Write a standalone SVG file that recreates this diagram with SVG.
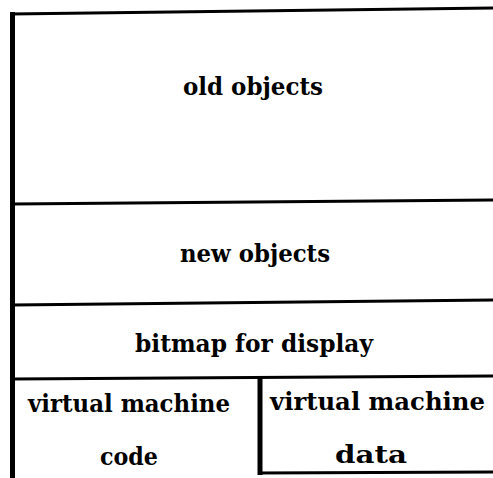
<svg xmlns="http://www.w3.org/2000/svg" width="493" height="478" viewBox="0 0 493 478">
  <style>
    .rule { stroke: #000; stroke-width: 3; fill: none; stroke-linecap: butt; }
    .post { stroke: #000; stroke-width: 5; fill: none; }
    .lbl { font-family: "DejaVu Serif", "Liberation Serif", serif; font-weight: bold; font-size: 25px; fill: #000; }
  </style>
  <rect width="493" height="478" fill="#fff"/>
  <!-- memory map frame and partitions -->
  <g id="connectors">
    <line class="rule" x1="10" y1="14" x2="493" y2="8"/>
    <line class="rule" x1="12" y1="204" x2="493" y2="200"/>
    <line class="rule" x1="12" y1="305" x2="493" y2="300"/>
    <line class="rule" x1="12" y1="379" x2="493" y2="376"/>
    <line class="rule" x1="258" y1="473" x2="493" y2="472"/>
    <line class="post" x1="12.5" y1="12" x2="12.5" y2="478"/>
    <line class="post" x1="260" y1="377" x2="260" y2="475"/>
  </g>
  <g id="old-objects">
    <text class="lbl" x="183" y="95" textLength="140" lengthAdjust="spacingAndGlyphs">old objects</text>
  </g>
  <g id="new-objects">
    <text class="lbl" x="180" y="262" textLength="150" lengthAdjust="spacingAndGlyphs">new objects</text>
  </g>
  <g id="bitmap">
    <text class="lbl" x="135" y="352" textLength="238" lengthAdjust="spacingAndGlyphs">bitmap for display</text>
  </g>
  <g id="vm-code">
    <text class="lbl" x="28" y="412" textLength="202" lengthAdjust="spacingAndGlyphs">virtual machine</text>
    <text class="lbl" x="100" y="465" textLength="58" lengthAdjust="spacingAndGlyphs">code</text>
  </g>
  <g id="vm-data">
    <text class="lbl" x="270" y="410" textLength="215" lengthAdjust="spacingAndGlyphs">virtual machine</text>
    <text class="lbl" x="335" y="463" textLength="72" lengthAdjust="spacingAndGlyphs">data</text>
  </g>
</svg>
